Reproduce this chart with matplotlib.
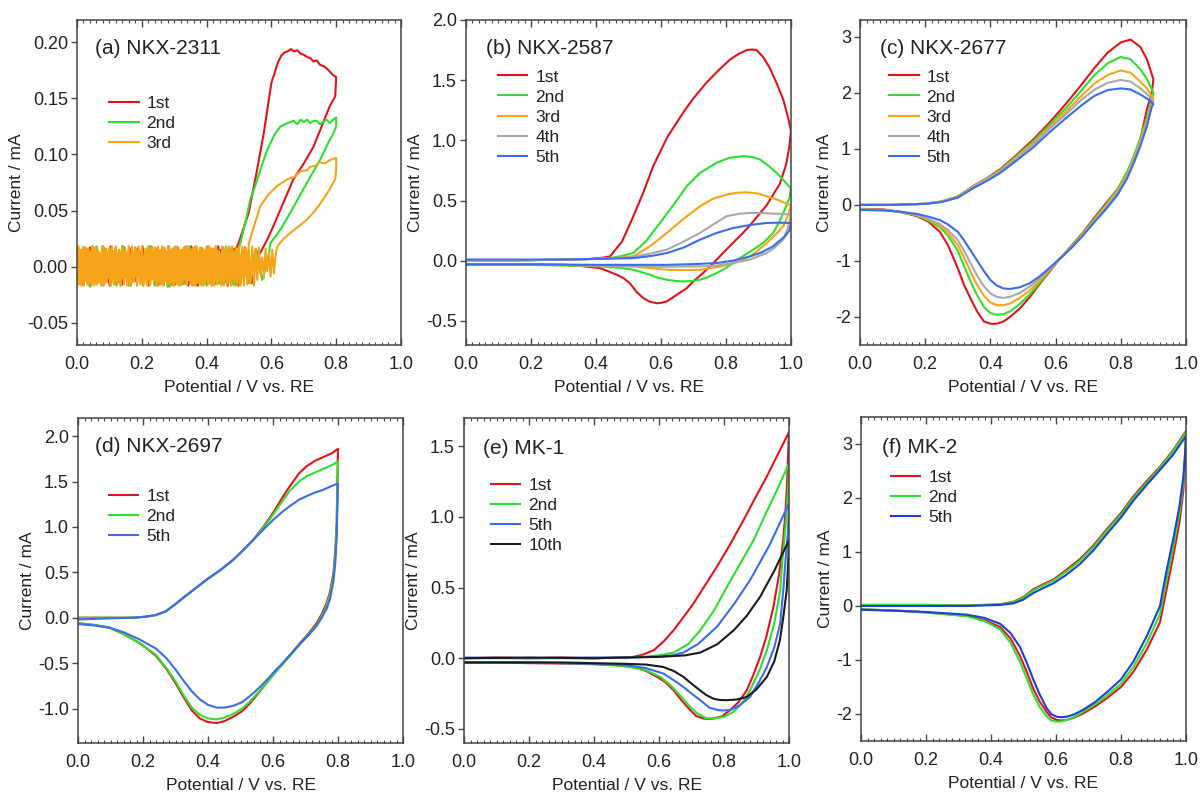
import numpy as np
import matplotlib
matplotlib.use("Agg")
import matplotlib.pyplot as plt
from matplotlib.ticker import MultipleLocator, FormatStrFormatter

plt.rcParams['font.family'] = ['Liberation Sans', 'DejaVu Sans']
plt.rcParams['axes.unicode_minus'] = False

# ---------------- colours / labels ----------------
RED, GREEN, ORANGE, GRAY, BLUE, BLACK = '#e3131b', '#2ee02e', '#f7a418', '#a9a9a9', '#3a6cec', '#1a1a1a'
BLUE_F = '#1d3fd6'

# ================= (a) NKX-2311 =================
# red (1st)
a1_noise_fwd = [0.015, -0.016, 0.017, -0.014, 0.018, -0.017, 0.012, -0.016, 0.017, -0.013, 0.018, -0.017,
                0.016, -0.015, 0.018, -0.016, 0.014, -0.017, 0.017, -0.012, 0.018, -0.016, 0.015, -0.017, 0.016]
a1_E_main = [0.49, 0.50, 0.53, 0.555, 0.577, 0.60, 0.62, 0.63, 0.64, 0.65, 0.66, 0.67, 0.68, 0.69, 0.70, 0.71,
             0.72, 0.73, 0.74, 0.75, 0.76, 0.77, 0.78, 0.79, 0.80,
             0.797, 0.78, 0.755, 0.73, 0.70, 0.668, 0.628, 0.60, 0.587, 0.565]
a1_I_main = [0.015, 0.022, 0.048, 0.085, 0.12, 0.164, 0.182, 0.188, 0.191, 0.192, 0.194, 0.192, 0.193, 0.190,
             0.189, 0.187, 0.186, 0.183, 0.184, 0.180, 0.179, 0.177, 0.174, 0.171, 0.169,
             0.152, 0.143, 0.125, 0.107, 0.092, 0.078, 0.051, 0.032, 0.024, 0.012]
a1_noise_rev = [0.014, -0.015, 0.017, -0.017, 0.016, -0.014, 0.018, -0.016, 0.013, -0.017, 0.018, -0.015,
                0.017, -0.016, 0.015, -0.017, 0.018, -0.013, 0.016, -0.017, 0.017, -0.015, 0.018, -0.016,
                0.014, -0.017, 0.017, -0.016]
# green (2nd)
a2_noise_fwd = [-0.017, 0.016, -0.015, 0.018, -0.017, 0.014, -0.016, 0.018, -0.017, 0.016, -0.013, 0.018,
                -0.017, 0.015, -0.018, 0.017, -0.016, 0.018, -0.014, 0.017, -0.017, 0.016, -0.015, 0.018,
                -0.016, 0.017]
a2_E_main = [0.505, 0.52, 0.535, 0.55, 0.57, 0.587, 0.61, 0.628, 0.65, 0.668, 0.68, 0.69, 0.70, 0.71, 0.72,
             0.73, 0.74, 0.75, 0.76, 0.77, 0.78, 0.79, 0.80,
             0.80, 0.79, 0.78, 0.75, 0.71, 0.67, 0.628, 0.597]
a2_I_main = [0.022, 0.04, 0.06, 0.072, 0.09, 0.104, 0.118, 0.125, 0.128, 0.130, 0.127, 0.131, 0.129, 0.131,
             0.128, 0.130, 0.130, 0.127, 0.129, 0.131, 0.128, 0.131, 0.133,
             0.125, 0.118, 0.113, 0.095, 0.075, 0.054, 0.033, 0.021]
a2_noise_rev = [0.010, -0.012, 0.016, -0.015, 0.012, -0.017, 0.017, -0.016, 0.018, -0.014, 0.016, -0.017,
                0.018, -0.016, 0.015, -0.018, 0.017, -0.015, 0.018, -0.017, 0.014, -0.016, 0.018, -0.017,
                0.016, -0.015, 0.017, -0.018, 0.016, -0.016]
# orange (3rd)
a3_noise_fwd = [0.017, -0.016, 0.015, -0.017, 0.018, -0.012, 0.016, -0.017, 0.013, -0.015,
                0.018, -0.016, 0.017, -0.014, 0.012, -0.017, 0.018, -0.015, 0.016, -0.010,
                0.017, -0.017, 0.014, -0.016, 0.018, -0.013, 0.015, -0.017, 0.017, -0.016,
                0.011, -0.015, 0.018, -0.017, 0.016, -0.012, 0.017, -0.016, 0.018, -0.014,
                0.015, -0.017, 0.013, -0.016, 0.018, -0.017, 0.016, -0.011, 0.017, -0.015,
                0.018, -0.016, 0.014, -0.017, 0.017, -0.013, 0.018, -0.016, 0.012, -0.017,
                0.016, -0.015, 0.018, -0.017, 0.015, -0.014, 0.017, -0.016, 0.018, -0.012,
                0.013, -0.017, 0.017, -0.016, 0.018, -0.015, 0.016, -0.017, 0.014, -0.013,
                0.018, -0.016, 0.017, -0.017, 0.015, -0.014, 0.018, -0.016, 0.012, -0.017,
                0.017, -0.015, 0.016, -0.016, 0.018, -0.017, 0.014, -0.012, 0.017, -0.016,
                0.018, -0.015, 0.015, -0.017, 0.016, -0.014]
a3_E_main = [0.53, 0.545, 0.566, 0.59, 0.618, 0.65, 0.67, 0.69, 0.71, 0.72, 0.735, 0.75, 0.765, 0.78, 0.79, 0.80,
             0.80, 0.797, 0.78, 0.76, 0.735, 0.71, 0.685, 0.658, 0.635, 0.618]
a3_I_main = [0.02, 0.035, 0.054, 0.064, 0.072, 0.078, 0.080, 0.085, 0.086, 0.089, 0.090, 0.093, 0.092, 0.095,
             0.096, 0.097,
             0.088, 0.078, 0.069, 0.060, 0.050, 0.042, 0.036, 0.030, 0.024, 0.018]
a3_noise_rev = [0.010, -0.006, 0.015, -0.009, 0.012, -0.004, 0.016, -0.010, 0.008, -0.007, 0.017, -0.012,
                0.016, -0.017, 0.018, -0.015, 0.014, -0.016, 0.017, -0.013, 0.018, -0.017,
                0.015, -0.016, 0.012, -0.017, 0.018, -0.014, 0.016, -0.015, 0.017, -0.017,
                0.018, -0.012, 0.014, -0.016, 0.017, -0.017, 0.016, -0.015, 0.018, -0.013,
                0.015, -0.017, 0.017, -0.016, 0.013, -0.014, 0.018, -0.017, 0.016, -0.015,
                0.017, -0.016, 0.018, -0.011, 0.015, -0.017, 0.014, -0.016, 0.018, -0.017,
                0.016, -0.014, 0.017, -0.015, 0.012, -0.017, 0.018, -0.016, 0.015, -0.017,
                0.017, -0.013, 0.018, -0.016, 0.014, -0.017, 0.016, -0.015, 0.018, -0.016,
                0.013, -0.017, 0.017, -0.014, 0.018, -0.016, 0.015, -0.017, 0.016, -0.012,
                0.018, -0.017, 0.014, -0.015, 0.017, -0.016, 0.018, -0.017, 0.015, -0.014,
                0.016, -0.017, 0.018, -0.015, 0.013, -0.016, 0.017, -0.017, 0.018, -0.014,
                0.016, -0.015, 0.017, -0.017, 0.015, -0.016, 0.018, -0.013]

# ================= (b) NKX-2587 =================
b1_E = [0.0, 0.1, 0.2, 0.3, 0.38, 0.42, 0.443, 0.48, 0.515, 0.546, 0.576, 0.62, 0.668, 0.70, 0.74, 0.78, 0.812,
        0.84, 0.864, 0.88, 0.894, 0.915, 0.935, 0.955, 0.976, 0.99, 1.0,
        0.995, 0.985, 0.966, 0.945, 0.925, 0.90, 0.874, 0.85, 0.822, 0.80, 0.771, 0.75, 0.73, 0.70, 0.679, 0.65,
        0.618, 0.60, 0.587, 0.565, 0.546, 0.525, 0.505, 0.485, 0.464, 0.44, 0.413, 0.36, 0.31, 0.2, 0.1, 0.0]
b1_I = [0.0, 0.0, 0.005, 0.01, 0.015, 0.025, 0.036, 0.16, 0.37, 0.57, 0.786, 1.03, 1.23, 1.35, 1.48, 1.59, 1.67,
        1.72, 1.75, 1.755, 1.75, 1.69, 1.60, 1.48, 1.34, 1.20, 1.08,
        0.95, 0.80, 0.64, 0.55, 0.46, 0.38, 0.295, 0.225, 0.15, 0.09, 0.008, -0.05, -0.10, -0.17, -0.228, -0.28,
        -0.338, -0.35, -0.353, -0.34, -0.311, -0.26, -0.19, -0.145, -0.117, -0.09, -0.062, -0.045, -0.034,
        -0.03, -0.03, -0.03]
b2_E = [0.0, 0.1, 0.2, 0.3, 0.4, 0.45, 0.48, 0.515, 0.556, 0.597, 0.64, 0.679, 0.72, 0.771, 0.81, 0.853, 0.88,
        0.904, 0.93, 0.956, 0.98, 1.0,
        0.995, 0.98, 0.965, 0.945, 0.915, 0.884, 0.85, 0.822, 0.80, 0.771, 0.745, 0.72, 0.695, 0.668, 0.645,
        0.618, 0.59, 0.566, 0.54, 0.515, 0.47, 0.413, 0.3, 0.2, 0.1, 0.0]
b2_I = [0.0, 0.0, 0.005, 0.01, 0.015, 0.025, 0.04, 0.064, 0.17, 0.314, 0.47, 0.619, 0.73, 0.814, 0.855, 0.869,
        0.862, 0.842, 0.79, 0.73, 0.66, 0.60,
        0.52, 0.42, 0.33, 0.23, 0.15, 0.092, 0.035, -0.02, -0.06, -0.103, -0.135, -0.158, -0.168, -0.172, -0.168,
        -0.158, -0.14, -0.117, -0.095, -0.075, -0.058, -0.047, -0.04, -0.035, -0.035, -0.035]
b3_E = [0.0, 0.1, 0.2, 0.3, 0.4, 0.45, 0.515, 0.566, 0.618, 0.67, 0.72, 0.76, 0.802, 0.835, 0.863, 0.895, 0.925,
        0.96, 1.0,
        0.99, 0.976, 0.95, 0.925, 0.9, 0.874, 0.85, 0.822, 0.78, 0.72, 0.67, 0.618, 0.56, 0.515, 0.4, 0.3, 0.2,
        0.1, 0.0]
b3_I = [0.0, 0.0, 0.005, 0.01, 0.015, 0.02, 0.036, 0.12, 0.231, 0.35, 0.453, 0.515, 0.55, 0.565, 0.569, 0.56,
        0.536, 0.505, 0.46,
        0.37, 0.286, 0.21, 0.147, 0.09, 0.036, 0.005, -0.019, -0.05, -0.075, -0.078, -0.075, -0.06, -0.047,
        -0.04, -0.035, -0.03, -0.03, -0.03]
b4_E = [0.0, 0.1, 0.2, 0.3, 0.4, 0.5, 0.56, 0.618, 0.67, 0.72, 0.76, 0.802, 0.84, 0.874, 0.92, 0.96, 1.0,
        0.99, 0.976, 0.95, 0.925, 0.874, 0.822, 0.77, 0.72, 0.6, 0.515, 0.4, 0.3, 0.2, 0.1, 0.0]
b4_I = [0.0, 0.0, 0.005, 0.01, 0.015, 0.03, 0.055, 0.092, 0.16, 0.231, 0.30, 0.37, 0.39, 0.397, 0.395, 0.39,
        0.383,
        0.27, 0.175, 0.11, 0.064, 0.01, -0.02, -0.04, -0.047, -0.05, -0.047, -0.04, -0.035, -0.03, -0.03, -0.03]
b5_E = [0.0, 0.1, 0.2, 0.3, 0.4, 0.515, 0.57, 0.618, 0.67, 0.72, 0.77, 0.822, 0.874, 0.925, 0.96, 1.0,
        0.995, 0.98, 0.96, 0.945, 0.91, 0.874, 0.82, 0.771, 0.7, 0.618, 0.5, 0.4, 0.3, 0.2, 0.1, 0.0]
b5_I = [0.01, 0.01, 0.01, 0.01, 0.015, 0.022, 0.04, 0.064, 0.11, 0.175, 0.23, 0.272, 0.297, 0.314, 0.316, 0.314,
        0.25, 0.2, 0.155, 0.12, 0.07, 0.036, 0.0, -0.019, -0.028, -0.034, -0.034, -0.034, -0.032, -0.03, -0.03,
        -0.03]

# ================= (c) NKX-2677 =================
c_E_fwd = [0.0, 0.1, 0.2, 0.25, 0.3, 0.348, 0.39, 0.43, 0.48, 0.532, 0.58, 0.634, 0.68, 0.72, 0.76, 0.80, 0.83,
           0.86, 0.88, 0.9]
c_E_rev = [0.895, 0.88, 0.86, 0.84, 0.82, 0.79, 0.757, 0.72, 0.685, 0.65, 0.613, 0.58, 0.55, 0.52, 0.49, 0.46,
           0.44, 0.42, 0.40, 0.38, 0.36, 0.34, 0.32, 0.30, 0.27, 0.245, 0.21, 0.174, 0.12, 0.072, 0.0]
c1_fwd = [0.0, 0.0, 0.02, 0.06, 0.15, 0.34, 0.48, 0.636, 0.89, 1.17, 1.46, 1.82, 2.15, 2.45, 2.72, 2.90, 2.95,
          2.82, 2.6, 2.24]
c1_rev = [2.0, 1.70, 1.17, 0.82, 0.58, 0.28, 0.047, -0.22, -0.486, -0.72, -0.96, -1.2, -1.42, -1.65, -1.85,
          -2.0, -2.08, -2.12, -2.12, -2.08, -1.91, -1.68, -1.44, -1.13, -0.72, -0.48, -0.3, -0.2, -0.12, -0.08,
          -0.07]
c2_fwd = [0.0, 0.0, 0.02, 0.06, 0.15, 0.33, 0.47, 0.62, 0.87, 1.14, 1.42, 1.74, 2.05, 2.32, 2.53, 2.64, 2.6,
          2.42, 2.25, 2.0]
c2_rev = [1.85, 1.55, 1.2, 0.88, 0.6, 0.28, 0.02, -0.24, -0.5, -0.73, -0.96, -1.18, -1.4, -1.6, -1.77, -1.9,
          -1.95, -1.96, -1.93, -1.82, -1.62, -1.38, -1.1, -0.82, -0.55, -0.4, -0.28, -0.19, -0.12, -0.09, -0.08]
c3_fwd = [0.0, 0.0, 0.02, 0.06, 0.15, 0.33, 0.47, 0.61, 0.85, 1.11, 1.38, 1.68, 1.95, 2.17, 2.32, 2.40, 2.36,
          2.2, 2.08, 1.9]
c3_rev = [1.8, 1.5, 1.15, 0.84, 0.56, 0.25, 0.0, -0.26, -0.51, -0.74, -0.96, -1.17, -1.36, -1.53, -1.66, -1.76,
          -1.79, -1.79, -1.74, -1.62, -1.44, -1.2, -0.95, -0.72, -0.5, -0.37, -0.26, -0.18, -0.12, -0.09, -0.08]
c4_fwd = [0.0, 0.0, 0.02, 0.06, 0.14, 0.32, 0.46, 0.6, 0.83, 1.08, 1.35, 1.63, 1.88, 2.06, 2.18, 2.23, 2.2,
          2.08, 1.98, 1.85]
c4_rev = [1.78, 1.45, 1.1, 0.8, 0.52, 0.22, -0.03, -0.28, -0.53, -0.75, -0.96, -1.15, -1.32, -1.46, -1.57,
          -1.64, -1.66, -1.64, -1.58, -1.45, -1.27, -1.05, -0.83, -0.63, -0.45, -0.34, -0.25, -0.18, -0.12,
          -0.09, -0.08]
c5_fwd = [0.0, 0.0, 0.02, 0.05, 0.13, 0.3, 0.43, 0.57, 0.79, 1.03, 1.29, 1.56, 1.78, 1.95, 2.05, 2.08, 2.06,
          1.97, 1.9, 1.8]
c5_rev = [1.75, 1.4, 1.05, 0.75, 0.48, 0.18, -0.06, -0.3, -0.54, -0.76, -0.96, -1.13, -1.28, -1.4, -1.47, -1.5,
          -1.49, -1.44, -1.34, -1.18, -1.0, -0.82, -0.64, -0.48, -0.35, -0.27, -0.21, -0.16, -0.12, -0.1, -0.09]

# ================= (d) NKX-2697 =================
d_E_fwd = [0.0, 0.068, 0.17, 0.21, 0.24, 0.27, 0.30, 0.324, 0.36, 0.396, 0.44, 0.478, 0.51, 0.54, 0.57, 0.601,
           0.63, 0.652, 0.68, 0.704, 0.73, 0.755, 0.78, 0.8]
d_E_rev = [0.798, 0.796, 0.792, 0.786, 0.775, 0.765, 0.75, 0.734, 0.71, 0.683, 0.66, 0.632, 0.605, 0.58, 0.555,
           0.53, 0.505, 0.478, 0.45, 0.427, 0.40, 0.375, 0.35, 0.324, 0.30, 0.273, 0.24, 0.19, 0.14, 0.098, 0.05,
           0.0]
d1_fwd = [0.0, 0.0, 0.0, 0.012, 0.03, 0.07, 0.15, 0.22, 0.32, 0.42, 0.53, 0.64, 0.75, 0.86, 1.0, 1.16, 1.33,
          1.45, 1.59, 1.67, 1.73, 1.77, 1.81, 1.86]
d1_rev = [1.5, 1.05, 0.75, 0.49, 0.28, 0.16, 0.04, -0.06, -0.17, -0.28, -0.38, -0.5, -0.61, -0.72, -0.83, -0.94,
          -1.03, -1.09, -1.14, -1.16, -1.15, -1.11, -1.02, -0.87, -0.72, -0.57, -0.42, -0.28, -0.18, -0.11,
          -0.08, -0.06]
d2_fwd = [0.0, 0.0, 0.0, 0.012, 0.03, 0.07, 0.15, 0.22, 0.32, 0.42, 0.53, 0.64, 0.75, 0.86, 0.99, 1.14, 1.29,
          1.4, 1.5, 1.56, 1.6, 1.64, 1.68, 1.72]
d2_rev = [1.4, 1.0, 0.7, 0.45, 0.25, 0.13, 0.02, -0.08, -0.18, -0.29, -0.39, -0.5, -0.61, -0.72, -0.82, -0.92,
          -1.0, -1.06, -1.1, -1.12, -1.11, -1.07, -0.99, -0.85, -0.7, -0.56, -0.41, -0.28, -0.18, -0.11,
          -0.08, -0.06]
d3_fwd = [-0.02, -0.01, 0.0, 0.012, 0.03, 0.07, 0.15, 0.22, 0.32, 0.42, 0.53, 0.64, 0.75, 0.86, 0.97, 1.08,
          1.17, 1.23, 1.3, 1.34, 1.38, 1.41, 1.45, 1.48]
d3_rev = [1.2, 0.9, 0.62, 0.4, 0.2, 0.1, 0.0, -0.09, -0.19, -0.29, -0.38, -0.49, -0.59, -0.69, -0.78, -0.86,
          -0.93, -0.97, -0.99, -0.99, -0.96, -0.9, -0.81, -0.69, -0.57, -0.45, -0.34, -0.24, -0.16, -0.11,
          -0.085, -0.07]

# ================= (e) MK-1 =================
e1_E = [0.0, 0.1, 0.2, 0.3, 0.4, 0.5, 0.521, 0.55, 0.584, 0.615, 0.645, 0.675, 0.706, 0.74, 0.778, 0.82, 0.86,
        0.895, 0.931, 0.965, 1.0,
        0.997, 0.993, 0.988, 0.982, 0.97, 0.952, 0.93, 0.911, 0.89, 0.87, 0.845, 0.819, 0.795, 0.768, 0.75,
        0.737, 0.715, 0.696, 0.67, 0.645, 0.62, 0.594, 0.56, 0.521, 0.45, 0.316, 0.2, 0.1, 0.0]
e1_I = [0.0, 0.005, 0.0, 0.005, 0.0, 0.005, 0.009, 0.025, 0.057, 0.12, 0.198, 0.29, 0.387, 0.51, 0.647, 0.81,
        0.977, 1.13, 1.283, 1.44, 1.6,
        1.42, 1.19, 1.0, 0.835, 0.6, 0.363, 0.15, 0.009, -0.12, -0.227, -0.31, -0.367, -0.41, -0.427, -0.43,
        -0.427, -0.41, -0.367, -0.3, -0.227, -0.17, -0.132, -0.09, -0.062, -0.045, -0.038, -0.035, -0.03, -0.03]
e2_E = [0.0, 0.2, 0.4, 0.5, 0.55, 0.6, 0.645, 0.69, 0.727, 0.77, 0.809, 0.85, 0.891, 0.93, 0.965, 1.0,
        0.997, 0.99, 0.98, 0.973, 0.955, 0.932, 0.91, 0.88, 0.855, 0.829, 0.8, 0.768, 0.745, 0.717, 0.69, 0.665,
        0.635, 0.604, 0.56, 0.5, 0.4, 0.3, 0.2, 0.1, 0.0]
e2_I = [0.0, 0.0, 0.0, 0.005, 0.01, 0.02, 0.04, 0.1, 0.198, 0.34, 0.505, 0.67, 0.835, 1.03, 1.2, 1.378,
        1.2, 0.95, 0.7, 0.481, 0.25, 0.057, -0.08, -0.227, -0.32, -0.38, -0.415, -0.427, -0.425, -0.39, -0.33,
        -0.264, -0.19, -0.132, -0.085, -0.058, -0.04, -0.035, -0.03, -0.03, -0.03]
e3_E = [0.0, 0.2, 0.4, 0.5, 0.6, 0.64, 0.675, 0.72, 0.778, 0.83, 0.88, 0.94, 1.0,
        0.997, 0.99, 0.983, 0.973, 0.955, 0.932, 0.905, 0.88, 0.85, 0.819, 0.795, 0.778, 0.755, 0.727, 0.7,
        0.675, 0.645, 0.614, 0.56, 0.5, 0.4, 0.3, 0.2, 0.1, 0.0]
e3_I = [0.005, 0.0, 0.005, 0.005, 0.01, 0.02, 0.04, 0.1, 0.222, 0.38, 0.552, 0.8, 1.095,
        0.9, 0.717, 0.5, 0.245, 0.08, -0.062, -0.18, -0.274, -0.33, -0.367, -0.37, -0.365, -0.35, -0.297, -0.25,
        -0.203, -0.155, -0.109, -0.07, -0.05, -0.04, -0.035, -0.03, -0.03, -0.03]
e4_E = [0.0, 0.2, 0.4, 0.5, 0.6, 0.68, 0.727, 0.78, 0.83, 0.87, 0.911, 0.955, 1.0,
        0.998, 0.993, 0.983, 0.972, 0.955, 0.932, 0.9, 0.87, 0.84, 0.808, 0.785, 0.767, 0.745, 0.726, 0.7,
        0.675, 0.645, 0.613, 0.56, 0.5, 0.4, 0.3, 0.2, 0.1, 0.0]
e4_I = [0.0, 0.005, 0.0, 0.005, 0.01, 0.02, 0.04, 0.1, 0.198, 0.3, 0.434, 0.62, 0.835,
        0.7, 0.481, 0.3, 0.127, -0.02, -0.132, -0.22, -0.274, -0.292, -0.297, -0.295, -0.286, -0.26, -0.227,
        -0.18, -0.132, -0.09, -0.062, -0.045, -0.04, -0.035, -0.03, -0.03, -0.03, -0.03]

# ================= (f) MK-2 =================
f_E_fwd = [0.0, 0.1, 0.2, 0.325, 0.428, 0.47, 0.5, 0.53, 0.56, 0.592, 0.63, 0.674, 0.715, 0.756, 0.8, 0.838,
           0.88, 0.92, 0.96, 1.0]
f_E_rev = [0.998, 0.992, 0.98, 0.961, 0.94, 0.92, 0.88, 0.838, 0.8, 0.756, 0.72, 0.684, 0.655, 0.633, 0.615,
           0.602, 0.585, 0.571, 0.55, 0.53, 0.51, 0.489, 0.46, 0.428, 0.38, 0.325, 0.2, 0.12, 0.0]
f1_fwd = [0.02, 0.02, 0.02, 0.01, 0.03, 0.08, 0.17, 0.31, 0.4, 0.49, 0.66, 0.87, 1.12, 1.42, 1.72, 2.03, 2.32,
          2.58, 2.88, 3.24]
f1_rev = [2.8, 2.15, 1.55, 0.93, 0.3, -0.3, -0.8, -1.22, -1.5, -1.71, -1.86, -1.99, -2.07, -2.11, -2.12, -2.11,
          -2.06, -1.96, -1.77, -1.53, -1.22, -0.92, -0.6, -0.39, -0.26, -0.18, -0.12, -0.09, -0.06]
f2_fwd = [0.02, 0.02, 0.02, 0.01, 0.03, 0.07, 0.16, 0.29, 0.38, 0.47, 0.63, 0.84, 1.09, 1.39, 1.69, 2.0, 2.29,
          2.56, 2.86, 3.22]
f2_rev = [2.85, 2.3, 1.72, 1.1, 0.48, -0.15, -0.68, -1.13, -1.44, -1.66, -1.82, -1.96, -2.06, -2.11, -2.14,
          -2.14, -2.12, -2.04, -1.87, -1.64, -1.34, -1.03, -0.68, -0.43, -0.28, -0.19, -0.12, -0.09, -0.06]
f3_fwd = [0.0, 0.0, 0.0, 0.0, 0.02, 0.05, 0.12, 0.24, 0.33, 0.42, 0.57, 0.78, 1.03, 1.33, 1.64, 1.95, 2.25,
          2.52, 2.8, 3.15]
f3_rev = [2.9, 2.4, 1.85, 1.25, 0.65, 0.0, -0.55, -1.03, -1.36, -1.6, -1.78, -1.92, -2.01, -2.05, -2.06, -2.05,
          -2.0, -1.89, -1.64, -1.36, -1.05, -0.76, -0.5, -0.33, -0.22, -0.16, -0.11, -0.09, -0.07]

LW = 1.5
TXT = '#222222'
SPINE = '#444444'

fig = plt.figure(figsize=(12, 7.96), dpi=100)
W, H = 1200, 796


def make_ax(left, top, right, bottom):
    return fig.add_axes([left / W, 1 - bottom / H, (right - left) / W, (bottom - top) / H])


def style(ax, ylim, ymaj, fmt, label, lx, ly):
    ax.set_xlim(0, 1.0)
    ax.set_ylim(*ylim)
    ax.xaxis.set_major_locator(MultipleLocator(0.2))
    ax.xaxis.set_minor_locator(MultipleLocator(0.02))
    ax.xaxis.set_major_formatter(FormatStrFormatter('%.1f'))
    ax.yaxis.set_major_locator(MultipleLocator(ymaj))
    ax.yaxis.set_major_formatter(FormatStrFormatter(fmt))
    ax.tick_params(axis='x', which='major', direction='in', top=True, bottom=True, length=5, width=1,
                   color=SPINE, labelsize=13, labelcolor=TXT, pad=8)
    ax.tick_params(axis='x', which='minor', direction='in', top=True, bottom=True, length=2.5, width=0.8,
                   color=SPINE)
    ax.tick_params(axis='y', which='major', direction='out', left=True, right=False, length=4.5, width=1,
                   color=SPINE, labelsize=13, labelcolor=TXT, pad=2)
    for s in ax.spines.values():
        s.set_color(SPINE)
        s.set_linewidth(1.1)
    ax.set_xlabel('Potential / V vs. RE', fontsize=12.5, color=TXT, labelpad=5)
    ax.set_ylabel('Current / mA', fontsize=12.5, color=TXT, labelpad=2)
    ax.text(lx, ly, label, transform=ax.transAxes, fontsize=15, color=TXT, va='center', ha='left')


def legend(ax, x, y):
    ax.legend(loc='upper left', bbox_to_anchor=(x, y), frameon=False, fontsize=12.5, handlelength=1.7,
              handletextpad=0.45, labelspacing=0.28, borderpad=0, borderaxespad=0, labelcolor=TXT)


# ---- (a)
ax = make_ax(77, 20, 401, 345)
for nf, Em, Im, nr, col, lab in [(a1_noise_fwd, a1_E_main, a1_I_main, a1_noise_rev, RED, '1st'),
                                 (a2_noise_fwd, a2_E_main, a2_I_main, a2_noise_rev, GREEN, '2nd'),
                                 (a3_noise_fwd, a3_E_main, a3_I_main, a3_noise_rev, ORANGE, '3rd')]:
    Ef = np.linspace(0.0, Em[0] - 0.005, len(nf))
    Er = np.linspace(Em[-1] - 0.005, 0.0, len(nr))
    E = np.concatenate([Ef, Em, Er])
    I = np.concatenate([nf, Im, nr])
    ax.plot(E, I, color=col, lw=LW, label=lab)
style(ax, (-0.07, 0.22), 0.05, '%.2f', '(a) NKX-2311', 0.055, 0.912)
legend(ax, 0.099, 0.767)

# ---- (b)
ax = make_ax(466, 20, 791, 345)
for E, I, col, lab in [(b1_E, b1_I, RED, '1st'), (b2_E, b2_I, GREEN, '2nd'), (b3_E, b3_I, ORANGE, '3rd'),
                       (b4_E, b4_I, GRAY, '4th'), (b5_E, b5_I, BLUE, '5th')]:
    ax.plot(E, I, color=col, lw=LW, label=lab)
style(ax, (-0.7, 2.0), 0.5, '%.1f', '(b) NKX-2587', 0.062, 0.912)
legend(ax, 0.098, 0.848)

# ---- (c)
ax = make_ax(860, 20, 1186, 345)
for fw, rv, col, lab in [(c1_fwd, c1_rev, RED, '1st'), (c2_fwd, c2_rev, GREEN, '2nd'),
                         (c3_fwd, c3_rev, ORANGE, '3rd'), (c4_fwd, c4_rev, GRAY, '4th'),
                         (c5_fwd, c5_rev, BLUE, '5th')]:
    ax.plot(c_E_fwd + c_E_rev, fw + rv, color=col, lw=LW, label=lab)
style(ax, (-2.5, 3.3), 1, '%d', '(c) NKX-2677', 0.061, 0.912)
legend(ax, 0.089, 0.848)

# ---- (d)
ax = make_ax(78, 418, 403, 743)
for fw, rv, col, lab in [(d1_fwd, d1_rev, RED, '1st'), (d2_fwd, d2_rev, GREEN, '2nd'),
                         (d3_fwd, d3_rev, BLUE, '5th')]:
    ax.plot(d_E_fwd + d_E_rev, fw + rv, color=col, lw=LW, label=lab)
style(ax, (-1.38, 2.2), 0.5, '%.1f', '(d) NKX-2697', 0.052, 0.912)
legend(ax, 0.095, 0.783)

# ---- (e)
ax = make_ax(464, 418, 789, 743)
for E, I, col, lab in [(e1_E, e1_I, RED, '1st'), (e2_E, e2_I, GREEN, '2nd'), (e3_E, e3_I, BLUE, '5th'),
                       (e4_E, e4_I, BLACK, '10th')]:
    ax.plot(E, I, color=col, lw=LW, label=lab)
style(ax, (-0.6, 1.7), 0.5, '%.1f', '(e) MK-1', 0.058, 0.906)
legend(ax, 0.083, 0.816)

# ---- (f)
ax = make_ax(861, 417, 1186, 741)
for fw, rv, col, lab in [(f1_fwd, f1_rev, RED, '1st'), (f2_fwd, f2_rev, GREEN, '2nd'),
                         (f3_fwd, f3_rev, BLUE_F, '5th')]:
    ax.plot(f_E_fwd + f_E_rev, fw + rv, color=col, lw=LW, label=lab)
style(ax, (-2.5, 3.5), 1, '%d', '(f) MK-2', 0.065, 0.906)
legend(ax, 0.092, 0.838)

fig.savefig('out.png', dpi=100)
